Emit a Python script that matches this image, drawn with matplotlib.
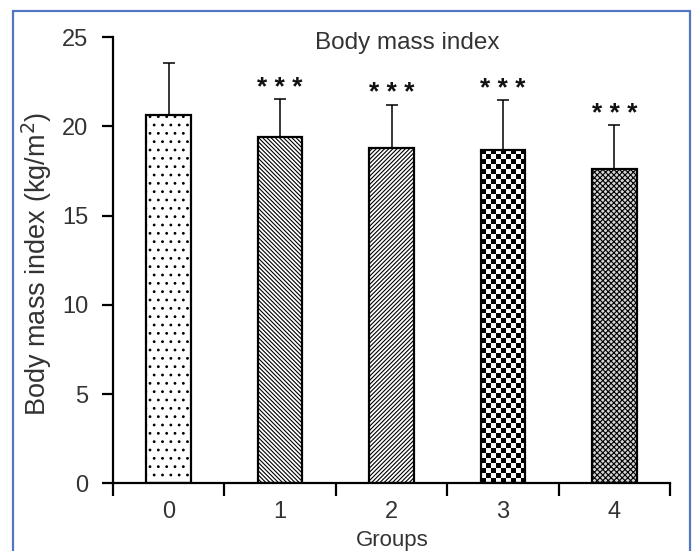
import numpy as np
import matplotlib
matplotlib.use("Agg")
import matplotlib.pyplot as plt
from matplotlib.patches import Rectangle

plt.rcParams['font.family'] = ['Liberation Sans', 'DejaVu Sans']
plt.rcParams['hatch.linewidth'] = 0.8

groups = ['0', '1', '2', '3', '4']
means = [20.63, 19.40, 18.79, 18.67, 17.63]
sd = [2.92, 2.13, 2.42, 2.80, 2.44]
sig = ['', '***', '***', '***', '***']
hatches = ['..', '\\' * 8, '/' * 8, None, 'x' * 6]
faces = ['white', 'white', 'white', 'none', '#d4d4d4']

title = 'Body mass index'
xlabel = 'Groups'
ylabel = 'Body mass index (kg/m$^2$)'

TXT = '#333333'
W, H = 695, 551
fig = plt.figure(figsize=(W / 100, H / 100), dpi=100)
ax = fig.add_axes([113 / W, 1 - 483.3 / H, 557 / W, 446.3 / H])

x = np.arange(len(groups))
bars = ax.bar(x, means, width=0.4, color=faces, edgecolor='black',
              linewidth=1.6, zorder=2)
for b, h in zip(bars, hatches):
    if h:
        b.set_hatch(h)
bars[3].set_zorder(3)

ax.errorbar(x, means, yerr=[np.zeros(len(sd)), sd], fmt='none',
            ecolor='black', elinewidth=1.1, capsize=4, capthick=1.1, zorder=1)

ax.set_xlim(-0.5, len(groups) - 0.5)
ax.set_ylim(0, 25)

# checkerboard fill for group 3
fig.canvas.draw()
b3 = bars[3]
p0 = ax.transData.transform((b3.get_x(), 0))
p1 = ax.transData.transform((b3.get_x() + b3.get_width(), b3.get_height()))
sq = 5.0
nx = max(1, int(round((p1[0] - p0[0]) / sq)))
ny = max(1, int(round((p1[1] - p0[1]) / sq)))
checker = (np.add.outer(np.arange(ny), np.arange(nx)) % 2).astype(float)
im = ax.imshow(checker, cmap='gray', vmin=0, vmax=1, interpolation='nearest',
               extent=(b3.get_x(), b3.get_x() + b3.get_width(), 0, b3.get_height()),
               aspect='auto', zorder=2.5)
im.set_clip_path(b3)
ax.set_xlim(-0.5, len(groups) - 0.5)
ax.set_ylim(0, 25)

# significance stars
for xi, m, s, t in zip(x, means, sd, sig):
    if t:
        ax.annotate('* * *', xy=(xi, m + s), xytext=(0, 3), textcoords='offset points',
                    ha='center', va='baseline', fontsize=19, fontweight='bold',
                    color='#111111')

for sp in ['top', 'right']:
    ax.spines[sp].set_visible(False)
for sp in ['left', 'bottom']:
    ax.spines[sp].set_linewidth(1.6)

ax.set_yticks([0, 5, 10, 15, 20, 25])
ax.tick_params(axis='y', which='major', length=7.7, width=1.6, pad=10,
               labelsize=17, labelcolor=TXT)
ax.set_xticks(x)
ax.set_xticklabels(groups)
ax.set_xticks(np.arange(len(groups) + 1) - 0.5, minor=True)
ax.tick_params(axis='x', which='major', length=0, pad=13, labelsize=17, labelcolor=TXT)
ax.tick_params(axis='x', which='minor', length=9, width=1.6)

ax.text(0.528, 0.987, title, transform=ax.transAxes, ha='center', va='center',
        fontsize=17.5, color=TXT)
fig.text(37 / W, 1 - 264 / H, ylabel, rotation=90, ha='center', va='center',
         fontsize=19.5, color=TXT)
fig.text(392 / W, 1 - 546 / H, xlabel, ha='center', va='baseline',
         fontsize=16, color=TXT)

frame = Rectangle((13 / W, -0.05), (690 - 13) / W, 1.05 - 11 / H,
                  transform=fig.transFigure, fill=False, edgecolor='#5277c0',
                  linewidth=1.6, zorder=10)
fig.patches.append(frame)

fig.savefig('out.png', dpi=100)
